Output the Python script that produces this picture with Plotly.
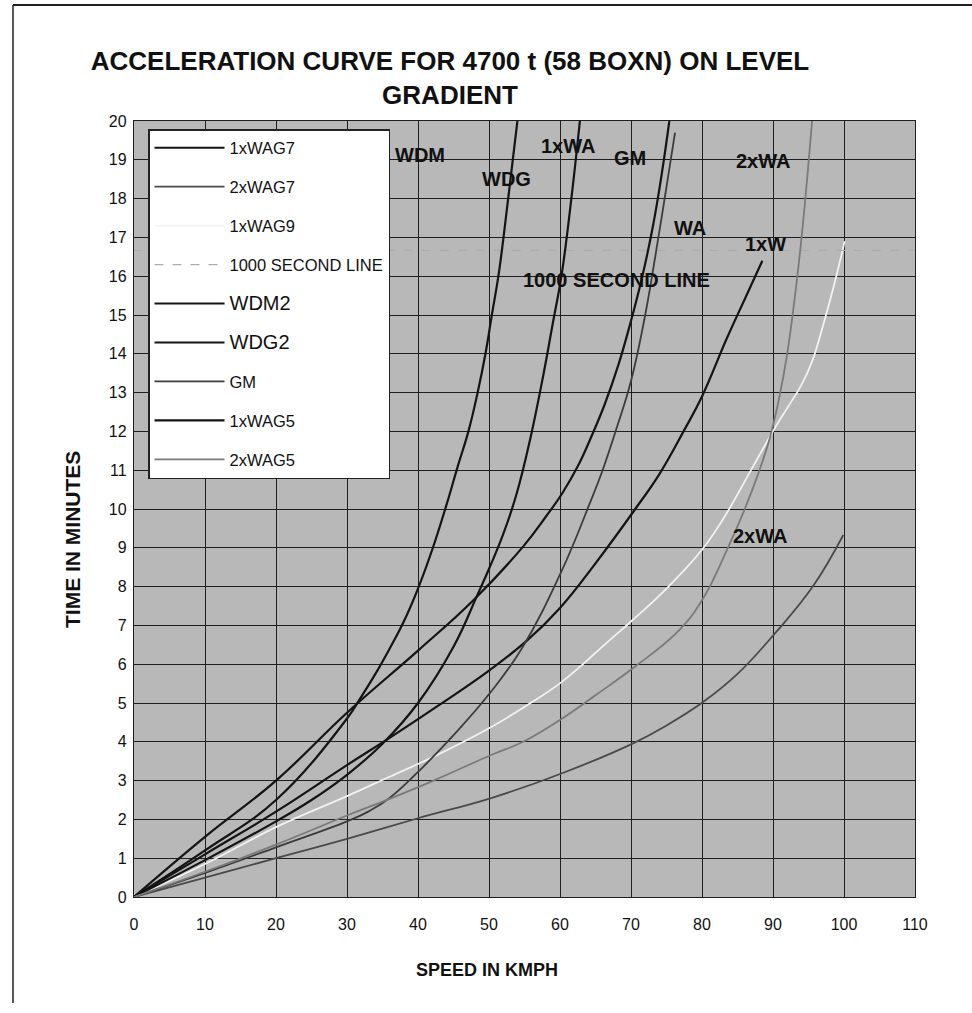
import plotly.graph_objects as go

# ---------------- data ----------------
wdm2_speed = [0, 10, 20, 30, 31.8, 34, 36, 38, 40, 42, 44, 45.6, 47.1, 48.4, 49.5, 50.4, 51.4, 52.7, 54]
wdm2_time = [0, 1.2, 2.5, 4.6, 5.1, 5.75, 6.4, 7.1, 7.95, 8.95, 10.1, 11.1, 12.0, 13.0, 14.0, 15.0, 16.1, 18.0, 20.0]

wdg2_speed = [0, 10, 20, 25, 30, 35, 40, 45, 48.4, 50.1, 52, 53.9, 55.8, 57.7, 59, 60.2, 61.6, 62.8]
wdg2_time = [0, 0.95, 1.95, 2.5, 3.15, 3.95, 5.0, 6.45, 7.8, 8.5, 9.35, 10.4, 11.8, 13.5, 14.8, 16.0, 18.0, 20.0]

wag5_1x_speed = [0, 10, 20, 30, 40, 47.8, 54.8, 58, 60.3, 62.5, 64.5, 66.3, 68.2, 70, 71.6, 73.1, 74.3, 75.4]
wag5_1x_time = [0, 1.55, 3.0, 4.75, 6.35, 7.65, 9.03, 9.8, 10.4, 11.1, 11.9, 12.7, 13.7, 14.85, 16.0, 17.3, 18.6, 20.0]

gm_speed = [0, 10, 20, 30, 33, 36, 40.7, 45.4, 50.1, 54.6, 60.3, 64.2, 66, 68, 70, 72, 73.5, 75, 76.2]
gm_time = [0, 0.62, 1.28, 1.95, 2.2, 2.55, 3.35, 4.25, 5.25, 6.4, 8.43, 10.15, 11.0, 12.1, 13.3, 15.0, 16.6, 18.3, 19.7]

wag7_1x_speed = [0, 10, 20, 30, 36, 43, 50.1, 55.3, 60, 65, 70.6, 74, 77.4, 80, 83.5, 86, 88.5]
wag7_1x_time = [0, 1.1, 2.2, 3.4, 4.1, 4.95, 5.85, 6.6, 7.45, 8.6, 10.0, 10.9, 12.0, 12.9, 14.4, 15.4, 16.4]

wag5_2x_speed = [0, 10, 20, 30, 36, 42.2, 50.3, 54.8, 60.3, 65, 70.3, 76.9, 80.3, 83.5, 85.8, 88, 89.5, 90.8, 92, 93.3, 94.4, 95.5]
wag5_2x_time = [0, 0.65, 1.35, 2.1, 2.53, 3.0, 3.66, 4.0, 4.6, 5.2, 5.9, 6.9, 7.74, 8.94, 9.9, 10.95, 11.8, 12.8, 14.0, 15.8, 17.7, 20.0]

wag9_1x_speed = [0, 10, 20, 30, 36, 42, 50, 55, 60.3, 67, 70, 75, 80, 83, 87.2, 90.3, 92, 94, 95.5, 97, 98.5, 100.1]
wag9_1x_time = [0, 0.85, 1.8, 2.6, 3.1, 3.6, 4.35, 4.9, 5.55, 6.62, 7.1, 7.95, 8.95, 9.75, 11.1, 12.1, 12.6, 13.2, 13.8, 14.7, 15.7, 16.9]

wag7_2x_speed = [0, 10, 20, 30, 40, 50.3, 60.3, 70.3, 75, 80.2, 85, 90.3, 95.6, 99.9]
wag7_2x_time = [0, 0.5, 1.0, 1.5, 2.03, 2.55, 3.19, 3.96, 4.42, 5.03, 5.75, 6.8, 8.0, 9.33]

line_1000s_speed = [0, 110]
line_1000s_time = [1000 / 60, 1000 / 60]

curve_labels = ["WDM", "WDG", "1xWA", "GM", "2xWA", "WA", "1xW", "1000 SECOND LINE", "2xWA"]
curve_label_x = [40.3, 52.5, 61.1, 69.9, 88.6, 78.3, 88.9, 68.0, 88.2]
curve_label_y = [19.12, 18.5, 19.35, 19.05, 18.97, 17.24, 16.83, 15.9, 9.3]

x_ticks = list(range(0, 111, 10))
y_ticks = list(range(0, 21, 1))

# ---------------- figure ----------------
FONT = "Liberation Sans, Arial, sans-serif"
fig = go.Figure()


def add(name, xs, ys, color, width, dash="solid", big=False):
    label = name if not big else f"<span style='font-size:20px'>{name}</span>"
    fig.add_trace(go.Scatter(
        x=xs, y=ys, mode="lines", name=label, legendgroup=name,
        line=dict(color=color, width=width, dash=dash, shape="spline", smoothing=1.2),
        hoverinfo="x+y+name",
    ))


add("1xWAG7", wag7_1x_speed, wag7_1x_time, "#141414", 2.2)
add("2xWAG7", wag7_2x_speed, wag7_2x_time, "#4a4a4a", 1.8)
add("1xWAG9", wag9_1x_speed, wag9_1x_time, "#f2f2f2", 1.8)
add("1000 SECOND LINE", line_1000s_speed, line_1000s_time, "#acacac", 1.2, dash="dash")
add("WDM2", wdm2_speed, wdm2_time, "#141414", 2.2, big=True)
add("WDG2", wdg2_speed, wdg2_time, "#141414", 2.2, big=True)
add("GM", gm_speed, gm_time, "#3c3c3c", 1.8)
add("1xWAG5", wag5_1x_speed, wag5_1x_time, "#141414", 2.2)
add("2xWAG5", wag5_2x_speed, wag5_2x_time, "#7a7a7a", 1.8)

for txt, xv, yv in zip(curve_labels, curve_label_x, curve_label_y):
    fig.add_annotation(x=xv, y=yv, text=f"<b>{txt}</b>", showarrow=False,
                       xanchor="center", yanchor="middle",
                       font=dict(family=FONT, size=20, color="#111111"))

W_PLOT, H_PLOT = 781, 776


def px2paper(px, py):
    return (px - 134) / W_PLOT, (897 - py) / H_PLOT


# axis titles (placed like in the original)
tx, ty = px2paper(487, 970)
fig.add_annotation(x=tx, y=ty, xref="paper", yref="paper", text="<b>SPEED IN KMPH</b>",
                   showarrow=False, xanchor="center", yanchor="middle",
                   font=dict(family=FONT, size=18, color="#111111"))
tx, ty = px2paper(72, 540)
fig.add_annotation(x=tx, y=ty, xref="paper", yref="paper", text="<b>TIME IN MINUTES</b>",
                   showarrow=False, textangle=-90, xanchor="center", yanchor="middle",
                   font=dict(family=FONT, size=21, color="#111111"))

# page frame
x0, y1 = px2paper(13, 5)
x1, y0 = px2paper(972, 1003)
fig.add_shape(type="line", xref="paper", yref="paper", x0=x0, x1=x0, y0=y0, y1=y1,
              line=dict(color="#222222", width=1.5))
fig.add_shape(type="line", xref="paper", yref="paper", x0=x0, x1=x1, y0=y1, y1=y1,
              line=dict(color="#222222", width=2))

lx, ly = px2paper(148, 129)
fig.update_layout(
    width=972, height=1013,
    margin=dict(l=134, r=57, t=121, b=116),
    paper_bgcolor="white", plot_bgcolor="#b8b8b8",
    title=dict(text="<b>ACCELERATION CURVE FOR 4700 t (58 BOXN) ON LEVEL<br>GRADIENT</b>",
               x=450 / 972, xanchor="center", y=1 - 70 / 1013, yanchor="top",
               font=dict(family=FONT, size=26, color="#111111")),
    font=dict(family=FONT, size=16, color="#111111"),
    showlegend=True,
    legend=dict(x=lx, y=ly, xanchor="left", yanchor="top", bgcolor="white",
                bordercolor="#222222", borderwidth=1.5, font=dict(family=FONT, size=16.5),
                tracegroupgap=14.5, itemwidth=70),
    xaxis=dict(range=[0, 110], tickvals=x_ticks, ticks="", showgrid=True, gridcolor="#1e1e1e",
               gridwidth=1.3, zeroline=False, showline=True, linecolor="#1e1e1e", linewidth=1.3,
               mirror=True, tickfont=dict(size=16), ticklabelstandoff=13),
    yaxis=dict(range=[0, 20], tickvals=y_ticks, ticks="", showgrid=True, gridcolor="#1e1e1e",
               gridwidth=1.3, zeroline=False, showline=True, linecolor="#1e1e1e", linewidth=1.3,
               mirror=True, tickfont=dict(size=16), ticklabelstandoff=3),
)

fig.write_html("out.html")
